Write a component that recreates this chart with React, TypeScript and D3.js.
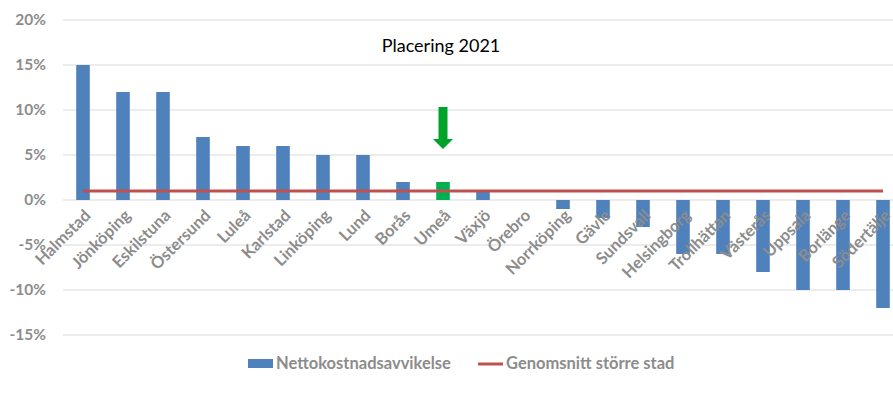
import { scaleBand, scaleLinear } from "d3";

const width = 893;
const height = 401;

const cities = [
  "Halmstad", "Jönköping", "Eskilstuna", "Östersund", "Luleå", "Karlstad",
  "Linköping", "Lund", "Borås", "Umeå", "Växjö", "Örebro", "Norrköping",
  "Gävle", "Sundsvall", "Helsingborg", "Trollhättan", "Västerås", "Uppsala",
  "Borlänge", "Södertälje",
];
const deviation = [15, 12, 12, 7, 6, 6, 5, 5, 2, 2, 1, 0, -1, -2, -3, -6, -6, -8, -10, -10, -12];
const average = 1;
const highlighted = "Umeå";
const yTicks = [20, 15, 10, 5, 0, -5, -10, -15];

const x = scaleBand().domain(cities).range([63, 903]).paddingInner(0.66).paddingOuter(0.33);
const y = scaleLinear().domain([-15, 20]).range([335, 20]);

const grey = "#8c8c8c";
const font = "Lato, 'Liberation Sans', sans-serif";

export default function App() {
  const umeaX = (x(highlighted) ?? 0) + x.bandwidth() / 2;
  const firstX = (x(cities[0]) ?? 0) + x.bandwidth() / 2;
  const lastX = (x(cities[cities.length - 1]) ?? 0) + x.bandwidth() / 2;
  return (
    <svg width={width} height={height} style={{ position: "absolute", left: 0, top: 0 }} fontFamily={font}>
      {yTicks.map((t) => (
        <g key={t}>
          <line x1={63} x2={893} y1={y(t)} y2={y(t)} stroke="#d9d9d9" strokeWidth={1.2} />
          <text x={46} y={y(t)} dy="0.35em" textAnchor="end" fontSize={15.5} fontWeight="bold" fill={grey}>
            {t}%
          </text>
        </g>
      ))}
      {cities.map((c, i) => {
        const v = deviation[i];
        return (
          <rect
            key={c}
            x={x(c)}
            y={y(Math.max(0, v))}
            width={x.bandwidth()}
            height={Math.abs(y(v) - y(0))}
            fill={c === highlighted ? "#00b050" : "#4f81bd"}
          />
        );
      })}
      <line x1={firstX} x2={lastX} y1={y(average)} y2={y(average)} stroke="#c0504d" strokeWidth={3} />
      {cities.map((c) => {
        const cx = (x(c) ?? 0) + x.bandwidth() / 2;
        return (
          <text
            key={c}
            transform={`translate(${cx + 1},${y(0) + 9}) rotate(-45)`}
            textAnchor="end"
            dy="0.65em"
            fontSize={16.5}
            fontWeight="bold"
            fill={grey}
          >
            {c}
          </text>
        );
      })}
      <text x={441} y={52} textAnchor="middle" fontSize={18} fill="#000">
        Placering 2021
      </text>
      <path
        d={`M${umeaX - 4.5},107 H${umeaX + 4.5} V139 H${umeaX + 10} L${umeaX},149 L${umeaX - 10},139 H${umeaX - 4.5} Z`}
        fill="#00a32a"
      />
      <rect x={248} y={359} width={25} height={9} fill="#4f81bd" />
      <text x={276} y={369} fontSize={16.5} fontWeight="bold" fill={grey}>
        Nettokostnadsavvikelse
      </text>
      <line x1={478} x2={503} y1={364} y2={364} stroke="#c0504d" strokeWidth={3} />
      <text x={506} y={369} fontSize={16.5} fontWeight="bold" fill={grey}>
        Genomsnitt större stad
      </text>
    </svg>
  );
}
